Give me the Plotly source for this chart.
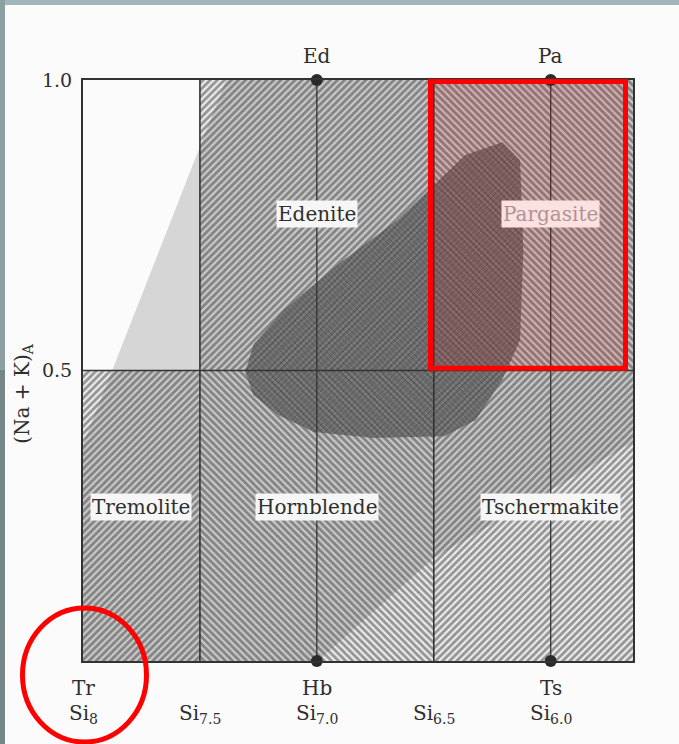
import plotly.graph_objects as go

# ---------------- data ----------------
SI_LEFT = 8.0
SI_RIGHT = 5.648          # right frame edge of the diagram (Si units)

region_names = ["Edenite", "Pargasite", "Tremolite", "Hornblende", "Tschermakite"]
region_si_from = [7.5, 6.5, 8.0, 7.5, 6.5]
region_si_to = [6.5, SI_RIGHT, 7.5, 6.5, SI_RIGHT]
region_y_from = [0.5, 0.5, 0.0, 0.0, 0.0]
region_y_to = [1.0, 1.0, 0.5, 0.5, 0.5]
region_hatch = ["/", "\\", "/", "\\", "/"]

label_si = [7.0, 6.0, 7.75, 7.0, 6.0]
label_y = [0.769, 0.769, 0.265, 0.265, 0.265]

# light grey natural-composition field
field_si = [7.388, 7.873, 8.0, 8.0, 6.995, 6.5, SI_RIGHT, SI_RIGHT]
field_y = [1.0, 0.5, 0.372, 0.0, 0.0, 0.177, 0.377, 1.0]

# dark stippled data field
blob_si = [7.306, 7.272, 7.142, 6.912, 6.655, 6.5, 6.365, 6.207, 6.131, 6.117,
           6.131, 6.207, 6.320, 6.455, 6.758, 7.013, 7.164, 7.272]
blob_y = [0.497, 0.544, 0.604, 0.682, 0.759, 0.819, 0.871, 0.893, 0.862, 0.707,
          0.552, 0.484, 0.415, 0.387, 0.384, 0.394, 0.423, 0.458]

boundary_si = [7.5, 7.0, 6.5, 6.0]
boundary_w = [1.6, 1.3, 1.6, 1.3]

top_names = ["Ed", "Pa"]
top_si = [7.0, 6.0]
bottom_names = ["Tr", "Hb", "Ts"]
bottom_si = [8.0, 7.0, 6.0]
si_ticks = [8.0, 7.5, 7.0, 6.5, 6.0]
si_tick_text = ["8", "7.5", "7.0", "6.5", "6.0"]

y_ticks = [0.5, 1.0]
y_tick_text = ["0.5", "1.0"]

SERIF = "DejaVu Serif, Liberation Serif, serif"
INK = "#2e2e2e"

fig = go.Figure()

# grey field
fig.add_trace(go.Scatter(x=field_si + [field_si[0]], y=field_y + [field_y[0]],
                         mode="lines", fill="toself", fillcolor="#d6d6d6",
                         line=dict(width=0), hoverinfo="skip", showlegend=False))

# hatched classification fields
for i in range(len(region_names)):
    x0, x1 = region_si_from[i], region_si_to[i]
    y0, y1 = region_y_from[i], region_y_to[i]
    fig.add_trace(go.Scatter(
        x=[x0, x1, x1, x0, x0], y=[y0, y0, y1, y1, y0],
        mode="lines", fill="toself", fillcolor="rgba(0,0,0,0)",
        fillpattern=dict(shape=region_hatch[i], size=5, solidity=0.55,
                         fgcolor="#3c3c3c", bgcolor="rgba(0,0,0,0.06)"),
        line=dict(width=0), hoverinfo="skip", showlegend=False))

# dark data field
fig.add_trace(go.Scatter(
    x=blob_si + [blob_si[0]], y=blob_y + [blob_y[0]],
    mode="lines", fill="toself", fillcolor="rgba(0,0,0,0)",
    fillpattern=dict(shape="x", size=4, solidity=0.3,
                     fgcolor="#2a2a2a", bgcolor="rgba(95,95,95,0.7)"),
    line=dict(width=0), hoverinfo="skip", showlegend=False))

# boundaries
for si, w in zip(boundary_si, boundary_w):
    fig.add_trace(go.Scatter(x=[si, si], y=[0, 1], mode="lines",
                             line=dict(color="#333333", width=w),
                             hoverinfo="skip", showlegend=False))
fig.add_trace(go.Scatter(x=[SI_LEFT, SI_RIGHT], y=[0.5, 0.5], mode="lines",
                         line=dict(color="#333333", width=1.6),
                         hoverinfo="skip", showlegend=False))

# end-member dots
fig.add_trace(go.Scatter(x=top_si + bottom_si[1:], y=[1.0] * len(top_si) + [0.0] * (len(bottom_si) - 1),
                         mode="markers", marker=dict(color="#2a2a2a", size=12),
                         cliponaxis=False, hoverinfo="skip", showlegend=False))

annotations = []
for name, si, yy in zip(region_names, label_si, label_y):
    pink = name == "Pargasite"
    annotations.append(dict(x=si, y=yy, xref="x", yref="y", text=name, showarrow=False,
                            font=dict(family=SERIF, size=20, color="#b09393" if pink else INK),
                            bgcolor="#fbe1e1" if pink else "#f6f6f6", borderpad=1))
for name, si in zip(top_names, top_si):
    annotations.append(dict(x=si, y=1.0, xref="x", yref="y", text=name, showarrow=False,
                            yshift=24, font=dict(family=SERIF, size=20, color=INK)))
for name, si in zip(bottom_names, bottom_si):
    annotations.append(dict(x=si, y=0.0, xref="x", yref="y", text=name, showarrow=False,
                            yshift=-27, font=dict(family=SERIF, size=20, color=INK)))
for si, t in zip(si_ticks, si_tick_text):
    annotations.append(dict(x=si, y=0.0, xref="x", yref="y", text="Si<sub>%s</sub>" % t,
                            showarrow=False, yshift=-53,
                            font=dict(family=SERIF, size=20, color=INK)))
annotations.append(dict(x=-60 / 550, y=0.46, xref="paper", yref="paper",
                        xanchor="center", yanchor="middle",
                        text="(Na&nbsp;+&nbsp;K)<sub>A</sub>", textangle=-90, showarrow=False,
                        font=dict(family=SERIF, size=20, color=INK)))


def px_x(px):
    return (px - 83) / 550.0


def px_y(py):
    return (661 - py) / 581.0


def si_paper(si):
    return (SI_LEFT - si) / (SI_LEFT - SI_RIGHT)


shapes = [
    # slide frame strips
    dict(type="rect", xref="paper", yref="paper", x0=px_x(0), x1=px_x(679), y0=px_y(5), y1=px_y(-2),
         fillcolor="#a1b7bb", line=dict(width=0), layer="above"),
    dict(type="rect", xref="paper", yref="paper", x0=px_x(-2), x1=px_x(5), y0=px_y(370), y1=px_y(-2),
         fillcolor="#8c9fa3", line=dict(width=0), layer="above"),
    dict(type="rect", xref="paper", yref="paper", x0=px_x(-2), x1=px_x(5), y0=px_y(746), y1=px_y(370),
         fillcolor="#76878a", line=dict(width=0), layer="above"),
    # red highlight rectangle
    dict(type="rect", xref="paper", yref="paper", x0=si_paper(6.5) - 0.006, x1=px_x(625.5),
         y0=0.5 + 0.004, y1=px_y(81.5), fillcolor="rgba(255,0,0,0.12)",
         line=dict(color="#ff0000", width=5), layer="above"),
    # red circle
    dict(type="circle", xref="paper", yref="paper", x0=px_x(22.5), x1=px_x(146.5),
         y0=px_y(742), y1=px_y(608), line=dict(color="#ff0000", width=5), layer="above"),
]

fig.update_layout(
    width=679, height=744, autosize=False,
    margin=dict(l=83, r=46, t=80, b=83),
    paper_bgcolor="#fbfbfb", plot_bgcolor="#fbfbfb",
    showlegend=False,
    xaxis=dict(range=[SI_LEFT, SI_RIGHT], showgrid=False, zeroline=False,
               showticklabels=False, ticks="", showline=True, mirror=True,
               linecolor="#333333", linewidth=2),
    yaxis=dict(range=[0, 1], showgrid=False, zeroline=False, tickvals=y_ticks,
               ticktext=y_tick_text, ticks="", showline=True, mirror=True,
               linecolor="#333333", linewidth=2, ticklabelstandoff=5,
               tickfont=dict(family=SERIF, size=19, color=INK)),
    annotations=annotations,
    shapes=shapes,
)

fig.write_html("out.html")
